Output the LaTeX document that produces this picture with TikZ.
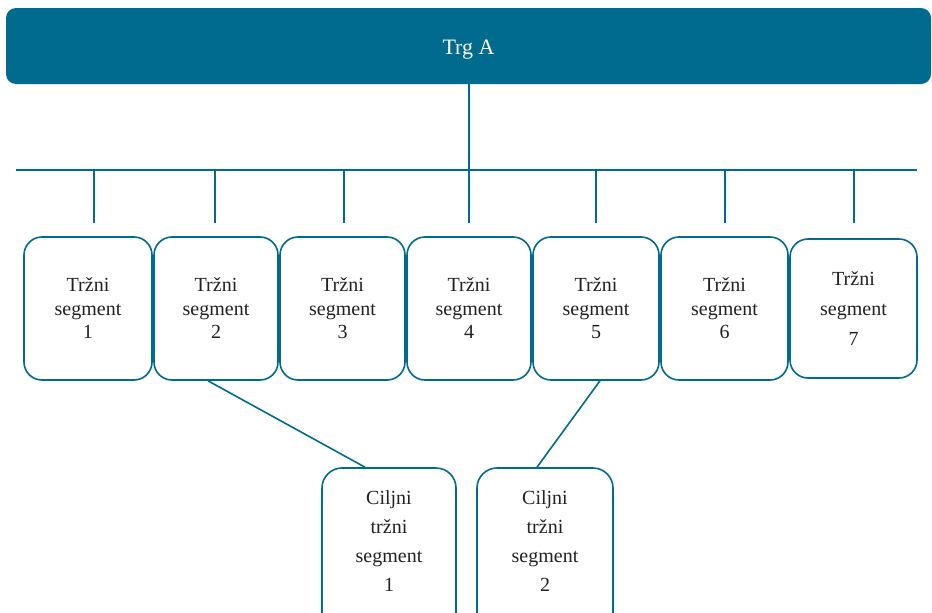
\documentclass[tikz,border=0pt]{standalone}
\usepackage{fontspec}
\setmainfont{Liberation Serif}
\definecolor{brandblue}{RGB}{0,106,143}
\definecolor{inktext}{RGB}{34,34,34}
\newcommand{\stacked}[2][13pt]{\raisebox{#1}[0pt][0pt]{\begin{tabular}{@{}c@{}}#2\end{tabular}}}
\begin{document}
\begin{tikzpicture}[x=1pt,y=-1pt,
  link/.style={draw=brandblue, line width=1.6pt},
  topbar/.style={fill=brandblue, rounded corners=10pt, minimum width=925pt,
    minimum height=76pt, inner sep=0pt, text=white,
    font=\fontsize{22}{26}\selectfont},
  segbox/.style={draw=brandblue, line width=1.6pt, rounded corners=18pt,
    fill=white, minimum height=143pt, inner sep=0pt, align=center,
    text=inktext, font=\fontsize{20}{23.5}\selectfont},
  goalbox/.style={draw=brandblue, line width=1.6pt, rounded corners=20pt,
    fill=white, minimum height=184pt, inner sep=0pt, text=inktext,
    font=\fontsize{20}{29}\selectfont}]
\useasboundingbox (0,0) rectangle (932,613);

% market
\node[topbar] (trg) at (468.5,46) {\raisebox{-8pt}[0pt][0pt]{Trg A}};

% bus line with drops
\coordinate (hub) at (469,170);
\coordinate (busL) at (16,170);
\coordinate (busR) at (917,170);
\foreach \i/\x in {1/94,2/215,3/344,4/469,5/596,6/725,7/854}
  \coordinate (d\i) at (\x,223);

% market segments
\node[segbox, minimum width=128pt] (s1) at (88,308.5) {Tržni\\segment\\1};
\node[segbox, minimum width=124pt] (s2) at (216,308.5) {Tržni\\segment\\2};
\node[segbox, minimum width=125pt] (s3) at (342.5,308.5) {Tržni\\segment\\3};
\node[segbox, minimum width=124pt] (s4) at (469,308.5) {Tržni\\segment\\4};
\node[segbox, minimum width=126pt] (s5) at (596,308.5) {Tržni\\segment\\5};
\node[segbox, minimum width=127pt] (s6) at (724.5,308.5) {Tržni\\segment\\6};
\node[segbox, minimum width=127pt, minimum height=139pt,
  font=\fontsize{20}{30}\selectfont] (s7) at (853.5,308.5) {Tržni\\segment\\7};

% target segments
\node[goalbox, minimum width=134pt] (c1) at (389,560)
  {\stacked{Ciljni\\tržni\\segment\\1}};
\node[goalbox, minimum width=136pt] (c2) at (545,560)
  {\stacked{Ciljni\\tržni\\segment\\2}};

% connectors
\draw[link] (trg.south -| hub) -- (hub);
\draw[link] (busL) -- (busR);
\foreach \i in {1,...,7}
  \draw[link] (d\i |- hub) -- (d\i);
\draw[link] ([xshift=-8pt]s2.south) -- ([xshift=-24pt]c1.north);
\draw[link] ([xshift=4pt]s5.south) -- ([xshift=-8pt]c2.north);
\end{tikzpicture}
\end{document}
